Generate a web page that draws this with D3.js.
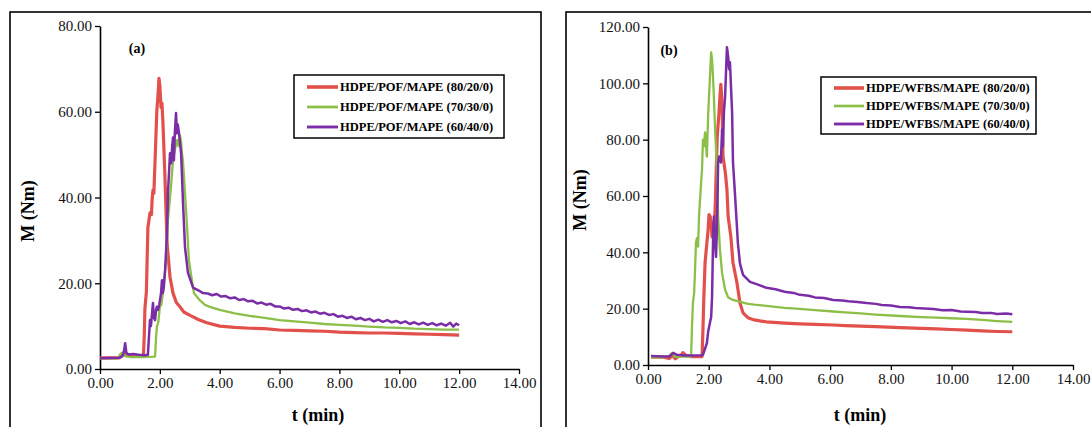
<!DOCTYPE html>
<html>
<head>
<meta charset="utf-8">
<script src="https://cdn.jsdelivr.net/npm/d3@7"></script>
<style>
  body { margin: 0; background: #fff; }
  text { font-family: "Liberation Serif", "Times New Roman", serif; }
</style>
</head>
<body>
<div id="plot"></div>
<script>
// Data: [t (min), M (Nm)]
const seriesLabelsA = ["HDPE/POF/MAPE (80/20/0)", "HDPE/POF/MAPE (70/30/0)", "HDPE/POF/MAPE (60/40/0)"];
const seriesLabelsB = ["HDPE/WFBS/MAPE (80/20/0)", "HDPE/WFBS/MAPE (70/30/0)", "HDPE/WFBS/MAPE (60/40/0)"];

const xTicks = [0, 2, 4, 6, 8, 10, 12, 14];
const yTicksA = [0, 20, 40, 60, 80];
const yTicksB = [0, 20, 40, 60, 80, 100, 120];

const redA = [[0,2.6],[0.3,2.6],[0.65,2.6],[0.72,3.2],[0.78,3.8],[0.84,3.2],[1.0,3.0],[1.2,3.0],[1.45,3.0],
  [1.48,8],[1.5,14],[1.55,18],[1.6,33],[1.67,36.4],[1.72,36],[1.74,39.4],[1.77,41.7],[1.8,41],[1.84,48.7],
  [1.9,60.4],[1.94,64],[1.97,67.8],[2.0,66],[2.04,61],[2.07,62],[2.10,58],[2.17,44.8],[2.24,29.4],[2.34,21.4],
  [2.44,17.7],[2.55,15.5],[2.67,14.5],[2.8,13.3],[3.01,12.5],[3.3,11.5],[3.57,10.8],[4.0,10.0],[4.5,9.7],
  [5.0,9.5],[5.5,9.4],[6.0,9.1],[6.5,9.0],[7.0,8.9],[7.5,8.8],[8.0,8.6],[8.5,8.5],[9.0,8.4],[9.5,8.4],
  [10.0,8.3],[10.5,8.2],[11.0,8.1],[11.5,8.0],[12.0,7.9]];

const greenA = [[0,2.5],[0.6,2.5],[0.68,3.5],[0.75,3.8],[0.85,3.0],[1.0,2.8],[1.4,2.8],[1.84,2.9],[1.87,7],
  [1.9,9.8],[1.95,11],[2.0,14.5],[2.05,15],[2.10,17.7],[2.21,25.4],[2.27,34.7],[2.37,42.4],[2.44,48.7],
  [2.5,51],[2.57,53.4],[2.62,52],[2.67,54.5],[2.71,53],[2.74,50.3],[2.77,48.7],[2.84,41],[2.91,33],
  [2.97,25.4],[3.07,20.7],[3.14,17.7],[3.34,16],[3.5,15],[3.67,14.5],[4.0,13.8],[4.5,13.0],[5.0,12.4],
  [5.5,11.9],[6.0,11.4],[6.5,11.1],[7.0,10.8],[7.5,10.5],[8.0,10.3],[8.5,10.1],[9.0,9.9],[9.5,9.7],
  [10.0,9.6],[10.5,9.4],[11.0,9.3],[11.5,9.2],[12.0,9.2]];

const purpleA = [[0,2.5],[0.65,2.6],[0.75,3.0],[0.8,4.0],[0.84,6.0],[0.88,3.8],[0.95,3.4],[1.1,3.5],[1.3,3.3],
  [1.5,3.2],[1.6,3.3],[1.64,8],[1.67,11.4],[1.7,10],[1.74,13],[1.77,15.4],[1.8,12],[1.84,11.4],[1.87,13.5],
  [1.9,14.5],[1.94,13.8],[1.98,15],[2.04,17.7],[2.07,20.7],[2.10,17.7],[2.13,19],[2.17,22.4],[2.24,31.7],
  [2.27,41],[2.34,50.3],[2.38,48],[2.41,51.7],[2.44,54],[2.47,48.7],[2.5,55],[2.54,59.7],[2.57,55],[2.6,57],
  [2.64,55],[2.71,50.3],[2.77,39.4],[2.84,28.4],[2.94,22.4],[3.11,19],[3.3,18.3],[3.44,17.7],[3.6,17.6],
  [3.75,17.2],[3.9,17.5],[4.05,16.9],[4.2,17.0],[4.35,16.5],[4.5,16.7],[4.65,16.1],[4.8,16.3],[4.95,15.8],
  [5.1,15.9],[5.25,15.3],[5.4,15.5],[5.55,15.0],[5.7,15.2],[5.85,14.6],[6.0,14.6],[6.15,14.1],[6.3,14.3],
  [6.45,13.8],[6.6,14.0],[6.75,13.5],[6.9,13.7],[7.05,13.2],[7.2,13.4],[7.35,12.9],[7.5,13.1],[7.65,12.6],
  [7.8,12.8],[7.95,12.2],[8.1,12.4],[8.25,11.9],[8.4,12.2],[8.55,11.6],[8.7,11.9],[8.85,11.4],[9.0,11.7],
  [9.15,11.1],[9.3,11.5],[9.45,11.0],[9.6,11.4],[9.75,10.9],[9.9,11.2],[10.05,10.7],[10.2,11.1],[10.35,10.5],
  [10.5,10.9],[10.65,10.4],[10.8,10.8],[10.95,10.3],[11.1,10.7],[11.25,10.2],[11.4,10.6],[11.55,10.1],
  [11.7,10.8],[11.8,9.9],[11.9,10.6],[12.0,10.2]];

const redB = [[0.1,2.8],[0.5,2.8],[0.7,2.3],[0.8,3.4],[0.9,2.2],[1.0,3.0],[1.1,3.6],[1.15,4.4],[1.25,3.4],
  [1.4,3.0],[1.6,3.0],[1.78,3.0],[1.81,12.5],[1.84,24.2],[1.88,36.3],[1.94,43.4],[1.98,48],[2.01,53.4],
  [2.05,52.7],[2.08,50],[2.11,45.5],[2.14,50.5],[2.18,48],[2.22,58],[2.25,70],[2.28,81],[2.34,89.7],
  [2.37,95.4],[2.40,99.6],[2.44,93.2],[2.47,74],[2.5,71.9],[2.55,68],[2.6,62.3],[2.64,52.7],[2.73,45.5],
  [2.8,36.3],[2.93,29.2],[3.03,22],[3.13,18.5],[3.29,16.8],[3.5,16.0],[3.9,15.3],[4.5,14.9],[5.0,14.6],
  [5.5,14.4],[6.1,14.2],[6.5,14.0],[7.0,13.8],[7.5,13.6],[8.3,13.3],[9.0,13.0],[9.5,12.8],[10.0,12.6],
  [10.5,12.4],[11.0,12.1],[11.5,11.9],[12.0,11.8]];

const greenB = [[0.1,2.7],[0.5,2.7],[0.7,3.2],[0.79,4.3],[0.88,3.0],[1.0,2.9],[1.2,3.0],[1.42,3.0],[1.45,14],
  [1.48,22],[1.52,25.6],[1.55,33.8],[1.58,43.4],[1.61,45],[1.65,42],[1.68,52.7],[1.75,64.8],[1.78,69.4],
  [1.81,80],[1.84,77.6],[1.88,82.6],[1.94,74],[1.98,88.3],[2.01,95.4],[2.08,111],[2.11,108.5],[2.14,102.5],
  [2.17,95.4],[2.21,83.6],[2.27,69.4],[2.31,52.7],[2.37,41],[2.44,32.7],[2.54,26.7],[2.64,24],[2.80,23.1],
  [3.26,21.8],[3.5,21.4],[3.9,21.0],[4.5,20.3],[5.0,19.9],[5.5,19.5],[6.1,19.0],[6.5,18.7],[7.0,18.3],
  [7.5,17.9],[8.3,17.4],[9.0,17.0],[9.5,16.8],[10.0,16.6],[10.5,16.4],[11.0,16.0],[11.5,15.6],[12.0,15.3]];

const purpleB = [[0.1,3.2],[0.5,3.0],[0.7,3.0],[0.83,4.3],[0.95,3.6],[1.2,3.4],[1.5,3.4],[1.75,3.5],[1.81,3.6],
  [1.94,7.8],[1.98,11.7],[2.04,15],[2.08,17],[2.11,24.2],[2.13,36.3],[2.15,48],[2.17,52.7],[2.21,43.4],
  [2.24,38.4],[2.27,48],[2.29,59.8],[2.31,71.9],[2.34,74],[2.40,71.9],[2.44,83.6],[2.47,77.6],[2.50,89.7],
  [2.54,95.4],[2.60,112.8],[2.64,109.6],[2.67,105],[2.70,107.5],[2.77,89.7],[2.80,71.9],[2.87,59.8],
  [2.93,49.1],[2.96,43.4],[3.03,36],[3.13,32],[3.36,29.5],[3.6,28.6],[3.9,27.4],[4.2,26.9],[4.5,26],
  [4.8,25.6],[5.0,24.9],[5.3,24.6],[5.5,24],[5.8,23.8],[6.1,23.1],[6.4,22.9],[6.6,22.6],[6.9,22.4],[7.2,22],
  [7.5,21.7],[7.7,21.3],[8.0,21.1],[8.3,20.6],[8.6,20.5],[8.8,20.2],[9.1,20.1],[9.4,19.9],[9.7,19.4],
  [10.0,19.5],[10.3,19.0],[10.5,18.9],[10.8,18.8],[11.0,18.5],[11.3,18.5],[11.5,18.1],[11.8,18.3],[12.0,18.0]];

const colors = ["#E2504C", "#8CBF47", "#7A2DA6"];
const strokeWidths = [3.2, 2.3, 2.5];

const svg = d3.select("#plot")
    .append("svg")
    .attr("width", 1091)
    .attr("height", 427);

svg.append("rect").attr("width", 1091).attr("height", 427).attr("fill", "#fff");

// Panel layouts (pixel frame of each plot)
const panels = [
  { tag: "(a)", series: [redA, greenA, purpleA], labels: seriesLabelsA, yTicks: yTicksA, yMax: 80,
    box: [10, 12, 531, 440], x0: 100, x1: 519, y0: 369, y1: 26,
    tagPos: [137, 53], yTitle: [28, 211], xTitle: [318, 421],
    legend: { x: 294, y: 75, w: 210, h: 63, rows: [87, 107, 127], lx0: 307, lx1: 338, tx: 340 } },
  { tag: "(b)", series: [redB, greenB, purpleB], labels: seriesLabelsB, yTicks: yTicksB, yMax: 120,
    box: [566, 12, 540, 440], x0: 648, x1: 1073, y0: 365, y1: 27,
    tagPos: [669, 55], yTitle: [580, 200], xTitle: [860, 421],
    legend: { x: 821, y: 77, w: 215, h: 57, rows: [88, 106, 124], lx0: 834, lx1: 864, tx: 866 } }
];

panels.forEach(p => {
    // Outer frame
    svg.append("rect")
        .attr("x", p.box[0]).attr("y", p.box[1])
        .attr("width", p.box[2]).attr("height", p.box[3])
        .attr("fill", "none")
        .attr("stroke", "#000")
        .attr("stroke-width", 1.6);

    const x = d3.scaleLinear().domain([0, 14]).range([p.x0, p.x1]);
    const y = d3.scaleLinear().domain([0, p.yMax]).range([p.y0, p.y1]);

    // Axes
    const xAxis = svg.append("g")
        .attr("transform", `translate(0,${p.y0})`)
        .call(d3.axisBottom(x).tickValues(xTicks).tickFormat(d3.format(".2f")).tickSize(5).tickSizeOuter(0));
    const yAxis = svg.append("g")
        .attr("transform", `translate(${p.x0},0)`)
        .call(d3.axisLeft(y).tickValues(p.yTicks).tickFormat(d3.format(".2f")).tickSize(5).tickSizeOuter(0));

    [xAxis, yAxis].forEach(ax => {
        ax.attr("font-family", null);
        ax.select(".domain").attr("stroke", "#000").attr("stroke-width", 1.6);
        ax.selectAll(".tick line").attr("stroke", "#000").attr("stroke-width", 1.3);
        ax.selectAll(".tick text")
            .attr("fill", "#111")
            .style("font-size", "15px");
    });
    yAxis.selectAll(".tick text").attr("x", -8);

    // Series lines
    const line = d3.line().x(d => x(d[0])).y(d => y(d[1]));
    p.series.forEach((s, i) => {
        svg.append("path")
            .datum(s)
            .attr("d", line)
            .attr("fill", "none")
            .attr("stroke", colors[i])
            .attr("stroke-width", strokeWidths[i])
            .attr("stroke-linejoin", "round");
    });

    // Panel tag
    svg.append("text")
        .attr("x", p.tagPos[0]).attr("y", p.tagPos[1])
        .attr("text-anchor", "middle")
        .style("font-size", "14px").style("font-weight", "bold")
        .text(p.tag);

    // Axis titles
    svg.append("text")
        .attr("transform", `translate(${p.yTitle[0]},${p.yTitle[1]}) rotate(-90)`)
        .attr("text-anchor", "middle")
        .attr("dy", "0.35em")
        .style("font-size", "18px").style("font-weight", "bold")
        .text("M (Nm)");
    svg.append("text")
        .attr("x", p.xTitle[0]).attr("y", p.xTitle[1])
        .attr("text-anchor", "middle")
        .style("font-size", "18px").style("font-weight", "bold")
        .text("t (min)");

    // Legend
    const lg = p.legend;
    svg.append("rect")
        .attr("x", lg.x).attr("y", lg.y).attr("width", lg.w).attr("height", lg.h)
        .attr("fill", "#fff").attr("stroke", "#000").attr("stroke-width", 1.5);
    p.labels.forEach((label, i) => {
        svg.append("line")
            .attr("x1", lg.lx0).attr("x2", lg.lx1)
            .attr("y1", lg.rows[i]).attr("y2", lg.rows[i])
            .attr("stroke", colors[i])
            .attr("stroke-width", strokeWidths[i] + 0.4);
        svg.append("text")
            .attr("x", lg.tx).attr("y", lg.rows[i])
            .attr("dy", "0.35em")
            .style("font-size", "12.5px").style("font-weight", "bold")
            .text(label);
    });
});
</script>
</body>
</html>
